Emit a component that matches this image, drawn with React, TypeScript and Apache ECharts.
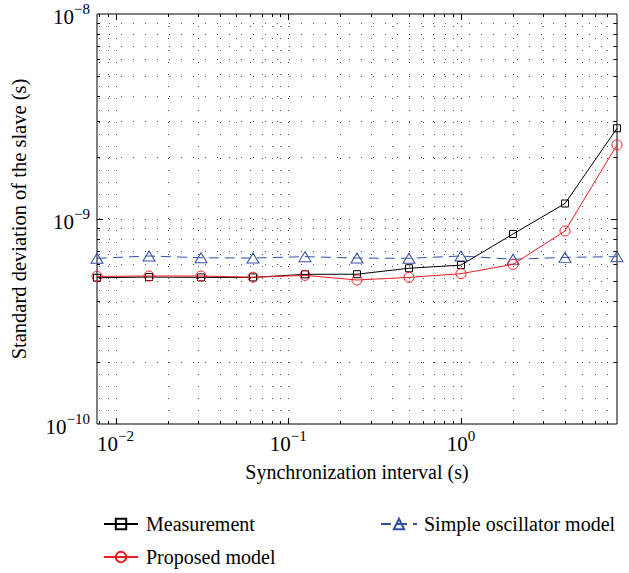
import React, { useEffect, useRef } from 'react';
import * as echarts from 'echarts';

const FONT = "'Liberation Serif', 'DejaVu Serif', serif";

// Synchronization intervals (s): 2^-7 ... 2^3
const xValues = [0.0078125, 0.015625, 0.03125, 0.0625, 0.125, 0.25, 0.5, 1, 2, 4, 8];
const measurement = [5.17e-10, 5.21e-10, 5.19e-10, 5.19e-10, 5.37e-10, 5.38e-10, 5.75e-10, 5.96e-10, 8.45e-10, 1.19e-9, 2.77e-9];
const proposed = [5.25e-10, 5.27e-10, 5.27e-10, 5.2e-10, 5.31e-10, 5.04e-10, 5.19e-10, 5.41e-10, 6.01e-10, 8.74e-10, 2.3e-9];
const simple = [6.43e-10, 6.6e-10, 6.47e-10, 6.45e-10, 6.55e-10, 6.45e-10, 6.43e-10, 6.6e-10, 6.36e-10, 6.5e-10, 6.55e-10];

const xMin = 0.0078125;
const xMax = 8;
const yMin = 1e-10;
const yMax = 1e-8;

const xMajor = [0.01, 0.1, 1];
const xGrid = [0.008, 0.009, 0.01, 0.02, 0.03, 0.04, 0.05, 0.06, 0.07, 0.08, 0.09, 0.1, 0.2, 0.3, 0.4, 0.5, 0.6, 0.7, 0.8, 0.9, 1, 2, 3, 4, 5, 6, 7];
const yMajor = [1e-9];
const yGrid = [2e-10, 3e-10, 4e-10, 5e-10, 6e-10, 7e-10, 8e-10, 9e-10, 1e-9, 2e-9, 3e-9, 4e-9, 5e-9, 6e-9, 7e-9, 8e-9, 9e-9];

const RED = '#ee1c25';
const BLUE = '#3450a4';

const isMajor = (v: number, list: number[]) => list.some((m) => Math.abs(m - v) / m < 1e-9);

const powLabel = (v: number) => {
  const e = Math.log10(v);
  const r = Math.round(e);
  if (Math.abs(e - r) > 1e-6) return '';
  const s = r < 0 ? '\u2212' + Math.abs(r) : String(r);
  return `{b|10}{s|${s}}`;
};

const rich = {
  b: { fontFamily: FONT, fontSize: 21, color: '#000', verticalAlign: 'bottom', lineHeight: 26 },
  s: { fontFamily: FONT, fontSize: 15, color: '#000', verticalAlign: 'top', lineHeight: 26 },
};

export default function App() {
  const ref = useRef<HTMLDivElement>(null);
  useEffect(() => {
    if (!ref.current) return;
    const chart = echarts.init(ref.current, undefined, { renderer: 'svg' });

    const vGrid = {
      type: 'custom',
      silent: true,
      z: 1,
      data: xGrid.map((v) => [v, 1e-9, isMajor(v, xMajor) ? 1 : 0]),
      encode: { x: 0, y: 1 },
      renderItem: (params: any, api: any) => {
        const cs = params.coordSys;
        const px = Math.round(api.coord([api.value(0), 1e-9])[0]) + 0.5;
        const len = api.value(2) ? 6 : 3;
        const top = cs.y;
        const bot = cs.y + cs.height;
        return {
          type: 'group',
          children: [
            { type: 'line', shape: { x1: px, y1: top, x2: px, y2: bot }, style: { stroke: '#555', lineWidth: 1, lineDash: [1, 11] } },
            { type: 'line', shape: { x1: px, y1: bot, x2: px, y2: bot - len }, style: { stroke: '#000', lineWidth: 1 } },
            { type: 'line', shape: { x1: px, y1: top, x2: px, y2: top + len }, style: { stroke: '#000', lineWidth: 1 } },
          ],
        };
      },
    };

    const hGrid = {
      type: 'custom',
      silent: true,
      z: 1,
      data: yGrid.map((v) => [1, v, isMajor(v, yMajor) ? 1 : 0]),
      encode: { x: 0, y: 1 },
      renderItem: (params: any, api: any) => {
        const cs = params.coordSys;
        const py = Math.round(api.coord([1, api.value(1)])[1]) + 0.5;
        const len = api.value(2) ? 6 : 3;
        const left = cs.x;
        const right = cs.x + cs.width;
        return {
          type: 'group',
          children: [
            { type: 'line', shape: { x1: left, y1: py, x2: right, y2: py }, style: { stroke: '#555', lineWidth: 1, lineDash: [1, 11] } },
            { type: 'line', shape: { x1: left, y1: py, x2: left + len, y2: py }, style: { stroke: '#000', lineWidth: 1 } },
            { type: 'line', shape: { x1: right, y1: py, x2: right - len, y2: py }, style: { stroke: '#000', lineWidth: 1 } },
          ],
        };
      },
    };

    chart.setOption({
      animation: false,
      backgroundColor: '#fff',
      grid: { left: 95, top: 14, right: 12, bottom: 149, show: true, borderColor: '#000', borderWidth: 1, backgroundColor: 'transparent' },
      xAxis: {
        type: 'log',
        logBase: 10,
        min: xMin,
        max: xMax,
        name: 'Synchronization interval (s)',
        nameLocation: 'middle',
        nameGap: 38,
        nameTextStyle: { fontFamily: FONT, fontSize: 20, color: '#000' },
        axisLine: { show: false },
        axisTick: { show: false },
        splitLine: { show: false },
        axisLabel: { formatter: powLabel, rich, margin: 4, showMinLabel: false, showMaxLabel: false },
      },
      yAxis: {
        type: 'log',
        logBase: 10,
        min: yMin,
        max: yMax,
        name: 'Standard deviation of the slave (s)',
        nameLocation: 'middle',
        nameGap: 68,
        nameTextStyle: { fontFamily: FONT, fontSize: 20.5, color: '#000' },
        axisLine: { show: false },
        axisTick: { show: false },
        splitLine: { show: false },
        axisLabel: { formatter: powLabel, rich, margin: 7 },
      },
      legend: [
        {
          data: ['Measurement', 'Proposed model'],
          orient: 'vertical',
          left: 98,
          top: 509,
          itemWidth: 34,
          itemHeight: 13,
          itemGap: 13,
          textStyle: { fontFamily: FONT, fontSize: 20, color: '#000', padding: [0, 0, 0, 3] },
        },
        {
          data: ['Simple oscillator model'],
          orient: 'vertical',
          left: 375,
          top: 509,
          itemWidth: 36,
          itemHeight: 13,
          textStyle: { fontFamily: FONT, fontSize: 20, color: '#000', padding: [0, 0, 0, 2] },
        },
      ],
      series: [
        vGrid,
        hGrid,
        {
          name: 'Measurement',
          type: 'line',
          z: 3,
          data: xValues.map((x, i) => [x, measurement[i]]),
          symbol: 'rect',
          symbolSize: 7,
          clip: false,
          lineStyle: { color: '#000', width: 1 },
          itemStyle: { color: 'none', borderColor: '#000', borderWidth: 1 },
        },
        {
          name: 'Proposed model',
          type: 'line',
          z: 4,
          data: xValues.map((x, i) => [x, proposed[i]]),
          symbol: 'circle',
          symbolSize: 10,
          clip: false,
          lineStyle: { color: RED, width: 1 },
          itemStyle: { color: 'none', borderColor: RED, borderWidth: 1 },
        },
        {
          name: 'Simple oscillator model',
          type: 'line',
          z: 2,
          data: xValues.map((x, i) => [x, simple[i]]),
          symbol: 'triangle',
          symbolSize: [12, 10],
          clip: false,
          lineStyle: { color: BLUE, width: 1, type: [10, 6] },
          itemStyle: { color: 'none', borderColor: BLUE, borderWidth: 1 },
        },
      ],
    });
    return () => chart.dispose();
  }, []);
  return <div ref={ref} style={{ position: 'absolute', left: 0, top: 0, width: 629, height: 573 }} />;
}
